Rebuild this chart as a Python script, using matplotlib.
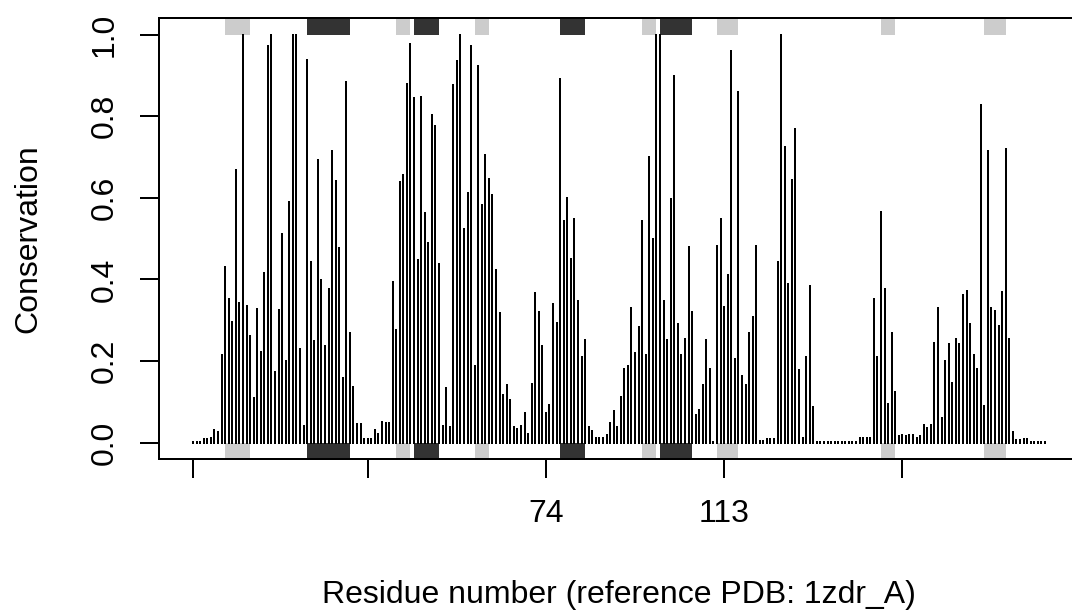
import matplotlib
matplotlib.use("Agg")
import matplotlib.pyplot as plt
from matplotlib.patches import Rectangle
import numpy as np

# ---------------- data ----------------
conservation = [
    0.002, 0.002, 0.002, 0.010, 0.010, 0.012, 0.030, 0.026,
    0.214, 0.431, 0.351, 0.295, 0.668, 0.342, 1.000, 0.336, 0.262, 0.110,
    0.327, 0.222, 0.416, 0.972, 1.000, 0.173, 0.325, 0.511, 0.199, 0.589,
    1.000, 1.000, 0.229, 0.041, 0.939,
    0.443, 0.248, 0.693, 0.398, 0.236, 0.376, 0.715, 0.641, 0.478, 0.159,
    0.884, 0.268, 0.136, 0.046, 0.046, 0.010, 0.010, 0.010, 0.031, 0.022,
    0.051, 0.048, 0.048, 0.394, 0.275, 0.638, 0.657, 0.880, 0.976, 0.844,
    0.447, 0.846, 0.563, 0.489, 0.803, 0.775, 0.437, 0.041, 0.134,
    0.039, 0.876, 0.935, 1.000, 0.523, 0.612, 0.972, 0.187, 0.923, 0.583,
    0.705, 0.646, 0.606, 0.423, 0.319, 0.118, 0.142, 0.104, 0.038, 0.034,
    0.042, 0.072, 0.022, 0.145, 0.368, 0.321, 0.236, 0.073, 0.092, 0.341,
    0.294, 0.892, 0.543, 0.600, 0.451, 0.549, 0.347, 0.211, 0.252,
    0.039, 0.028, 0.011, 0.011, 0.011, 0.020, 0.049, 0.077, 0.038, 0.112,
    0.181, 0.187, 0.331, 0.220, 0.283, 0.543, 0.214, 0.701, 0.498, 1.000,
    1.000, 0.347, 0.252, 0.598, 0.898, 0.291, 0.214, 0.255, 0.480, 0.320,
    0.067, 0.081, 0.142, 0.252, 0.181, 0.002, 0.482, 0.547, 0.333, 0.410,
    0.961, 0.206, 0.859, 0.163, 0.142, 0.270, 0.307, 0.481, 0.004, 0.004,
    0.008, 0.008, 0.010, 0.444, 1.000, 0.724, 0.390, 0.644, 0.768, 0.179,
    0.011, 0.209, 0.384, 0.088,
    0.002, 0.002, 0.002, 0.002, 0.002, 0.002, 0.002, 0.002, 0.002, 0.002,
    0.002, 0.002,
    0.011, 0.011, 0.011, 0.011,
    0.352, 0.211, 0.565, 0.376, 0.095, 0.270, 0.124, 0.016, 0.019, 0.016,
    0.020, 0.018, 0.012, 0.016, 0.043, 0.037, 0.043, 0.245, 0.331, 0.061,
    0.201, 0.241, 0.146, 0.254, 0.242, 0.362, 0.372, 0.290, 0.214, 0.181,
    0.827, 0.091, 0.714, 0.329, 0.323, 0.287, 0.370, 0.720,
    0.254, 0.026, 0.006, 0.006, 0.008, 0.008, 0.002, 0.002, 0.002, 0.002,
    0.002,
]
positions = list(range(1, len(conservation) + 1))

helix_start = [33, 63, 104, 132]
helix_end = [45, 70, 111, 141]
sheet_start = [10, 58, 80, 127, 148, 194, 223]
sheet_end = [17, 62, 84, 131, 154, 198, 229]

xtick_pos = [1, 50, 100, 150, 200]
xtick_labels = ["", "", "74", "113", ""]
ytick_pos = [0.0, 0.2, 0.4, 0.6, 0.8, 1.0]
ytick_labels = ["0.0", "0.2", "0.4", "0.6", "0.8", "1.0"]

xlabel = "Residue number (reference PDB: 1zdr_A)"
ylabel = "Conservation"

# ---------------- figure ----------------
plt.rcParams['font.family'] = ['Liberation Sans', 'DejaVu Sans']
W, H = 1072, 614
fig = plt.figure(figsize=(W / 100, H / 100), dpi=100)
fs = 23

ax_l, ax_r, ax_t, ax_b = 159, 1079, 18.3, 459
ax = fig.add_axes([ax_l / W, (H - ax_b) / H, (ax_r - ax_l) / W, (ax_b - ax_t) / H])
ax.set_clip_on(False)

n = len(conservation)
ax.set_xlim(1 - 0.04 * (n - 1), n + 0.04 * (n - 1))
ax.set_ylim(-0.04, 1.04)

lw = 1.44
ax.vlines(positions, 0, conservation, colors='black', linewidth=lw,
          capstyle='projecting', zorder=3)

y_top, y_bot = 1.04, -0.04
for s, e in zip(sheet_start, sheet_end):
    ax.add_patch(Rectangle((s, 1.0), e - s, y_top - 1.0, facecolor='#cccccc', edgecolor='none', zorder=2))
    ax.add_patch(Rectangle((s, y_bot), e - s, 0 - y_bot, facecolor='#cccccc', edgecolor='none', zorder=2))
for s, e in zip(helix_start, helix_end):
    ax.add_patch(Rectangle((s, 1.0), e - s, y_top - 1.0, facecolor='#333333', edgecolor='none', zorder=2))
    ax.add_patch(Rectangle((s, y_bot), e - s, 0 - y_bot, facecolor='#333333', edgecolor='none', zorder=2))

for sp in ax.spines.values():
    sp.set_linewidth(lw)
    sp.set_zorder(4)

ax.set_xticks(xtick_pos)
ax.set_xticklabels(xtick_labels, fontsize=fs)
ax.set_yticks(ytick_pos)
ax.set_yticklabels(ytick_labels, fontsize=fs, rotation=90, va='center')
ax.tick_params(axis='both', direction='out', length=14, width=lw, color='black')
ax.tick_params(axis='x', pad=15)
ax.tick_params(axis='y', pad=14.5)

cx = (ax_l + ax_r) / 2
fig.text(cx / W, 1 - 595 / H, xlabel, ha='center', va='center', fontsize=fs)
fig.text(28 / W, 1 - (ax_t + ax_b) / 2 / H, ylabel, ha='center', va='center',
         rotation=90, fontsize=fs)

fig.savefig("out.png", dpi=100)
